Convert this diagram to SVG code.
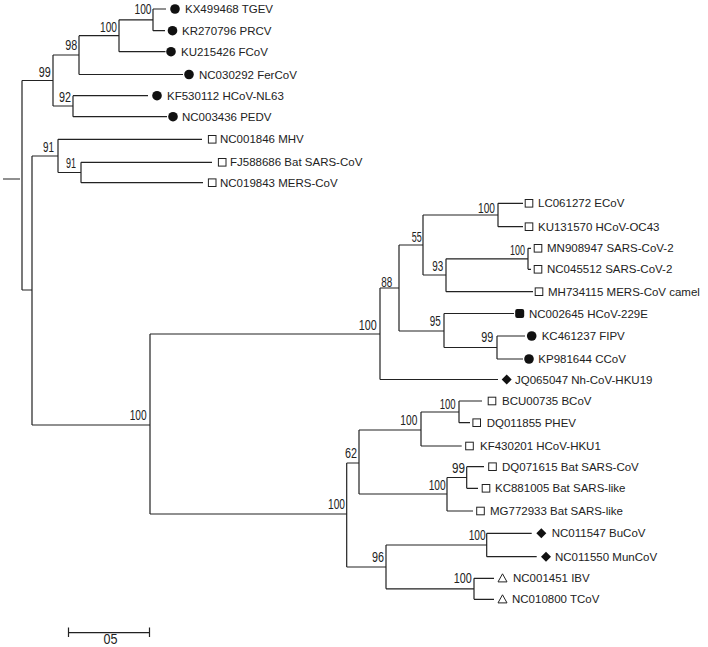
<svg xmlns="http://www.w3.org/2000/svg" xmlns:xlink="http://www.w3.org/1999/xlink" width="708" height="647" viewBox="0 0 708 647">
<style>
.br{fill:none;stroke:#222;stroke-width:1.2}
.lf{font-family:"Liberation Sans",Arial,sans-serif;font-size:11.5px;fill:#222}
.bs{font-family:"Liberation Sans",Arial,sans-serif;font-size:14px;fill:#222;text-anchor:end}
.dot{fill:#111}
.sq{fill:#fff;stroke:#222;stroke-width:1}
.tri{fill:#fff;stroke:#222;stroke-width:1}
</style>
<defs>
<circle id="m-dot" class="dot" cx="0" cy="0" r="4.8"/>
<rect id="m-rsq" class="dot" x="-4.5" y="-4.5" width="9" height="9" rx="2"/>
<rect id="m-sq" class="sq" x="-3.8" y="-3.8" width="7.6" height="7.6"/>
<polygon id="m-dia" class="dot" points="0,-5 5,0 0,5 -5,0"/>
<polygon id="m-tri" class="tri" points="0,-4.5 4.5,3.6 -4.5,3.6"/>
</defs>
<rect width="708" height="647" fill="#fff"/>
<g id="connectors">
<path class="br" d="M3 179H20 M22 80.5V290 M22 80.5H53 M22 290H32
M53 55V106 M53 55H79 M53 106H73
M79 35.7V74.5 M79 35.7H119 M79 74.5H183
M119 19.8V51.7 M119 19.8H153 M119 51.7H165.5
M153 9V30.7 M153 9H166 M153 30.7H165
M73 95.7V116.7 M73 95.7H148 M73 116.7H167
M32 156V425 M32 156H58 M32 425H150
M58 139.3V172.5 M58 139.3H202 M58 172.5H81
M81 162.3V182.7 M81 162.3H212 M81 182.7H203
M150 334V514 M150 334H380 M150 514H346.7
M380 288V379.5 M380 288H399 M380 379.5H498
M399 245V331 M399 245H423 M399 331H444
M423 215V275 M423 215H498 M423 275H446
M498 203.3V226.7 M498 203.3H523 M498 226.7H523
M446 258.8V291.7 M446 258.8H528 M446 291.7H533
M528 248.3V269.3 M528 248.3H531 M528 269.3H531
M444 313.5V347.5 M444 313.5H514 M444 347.5H497
M497 336V359 M497 336H525 M497 359H523
M346.7 463V567 M346.7 463H359 M346.7 567H386
M359 430V494 M359 430H421 M359 494H447
M421 412V446 M421 412H459 M421 446H461.7
M459 401V422.7 M459 401H482 M459 422.7H470
M447 477.5V511 M447 477.5H466.7 M447 511H473
M466.7 466.7V488.3 M466.7 466.7H484 M466.7 488.3H478
M386 545V588.8 M386 545H486.7 M386 588.8H474
M486.7 533.3V556.7 M486.7 533.3H531.7 M486.7 556.7H536.7
M474 578.3V599.3 M474 578.3H494 M474 599.3H494"/>
</g>
<g id="support">
<text class="bs" x="151.5" y="13.5" textLength="17" lengthAdjust="spacingAndGlyphs">100</text>
<text class="bs" x="117" y="31.7" textLength="17" lengthAdjust="spacingAndGlyphs">100</text>
<text class="bs" x="77.3" y="50" textLength="12" lengthAdjust="spacingAndGlyphs">98</text>
<text class="bs" x="50.7" y="76.7" textLength="12" lengthAdjust="spacingAndGlyphs">99</text>
<text class="bs" x="71" y="101.7" textLength="12" lengthAdjust="spacingAndGlyphs">92</text>
<text class="bs" x="54" y="151.7" textLength="11" lengthAdjust="spacingAndGlyphs">91</text>
<text class="bs" x="76" y="168.3" textLength="10" lengthAdjust="spacingAndGlyphs">91</text>
<text class="bs" x="495" y="213.3" textLength="17" lengthAdjust="spacingAndGlyphs">100</text>
<text class="bs" x="421.7" y="241.7" textLength="10" lengthAdjust="spacingAndGlyphs">55</text>
<text class="bs" x="525" y="255" textLength="15" lengthAdjust="spacingAndGlyphs">100</text>
<text class="bs" x="443.3" y="270.7" textLength="11" lengthAdjust="spacingAndGlyphs">93</text>
<text class="bs" x="392.3" y="287.3" textLength="11" lengthAdjust="spacingAndGlyphs">88</text>
<text class="bs" x="376.7" y="330" textLength="18" lengthAdjust="spacingAndGlyphs">100</text>
<text class="bs" x="440.7" y="326" textLength="11" lengthAdjust="spacingAndGlyphs">95</text>
<text class="bs" x="493.3" y="341.7" textLength="12" lengthAdjust="spacingAndGlyphs">99</text>
<text class="bs" x="455.7" y="409.3" textLength="16" lengthAdjust="spacingAndGlyphs">100</text>
<text class="bs" x="417.3" y="425" textLength="17" lengthAdjust="spacingAndGlyphs">100</text>
<text class="bs" x="465" y="473.3" textLength="13" lengthAdjust="spacingAndGlyphs">99</text>
<text class="bs" x="445.7" y="490" textLength="17" lengthAdjust="spacingAndGlyphs">100</text>
<text class="bs" x="357" y="458" textLength="12" lengthAdjust="spacingAndGlyphs">62</text>
<text class="bs" x="345" y="509.3" textLength="17" lengthAdjust="spacingAndGlyphs">100</text>
<text class="bs" x="146.7" y="420" textLength="17" lengthAdjust="spacingAndGlyphs">100</text>
<text class="bs" x="384" y="561.7" textLength="12" lengthAdjust="spacingAndGlyphs">96</text>
<text class="bs" x="485.7" y="540" textLength="17" lengthAdjust="spacingAndGlyphs">100</text>
<text class="bs" x="471.7" y="583.3" textLength="18" lengthAdjust="spacingAndGlyphs">100</text>
</g>
<g id="n-TGEV"><use href="#m-dot" x="175" y="9"/><text class="lf" x="185" y="13">KX499468 TGEV</text></g>
<g id="n-PRCV"><use href="#m-dot" x="172.5" y="30.7"/><text class="lf" x="182" y="34.7">KR270796 PRCV</text></g>
<g id="n-FCoV"><use href="#m-dot" x="171" y="51.7"/><text class="lf" x="181" y="55.7">KU215426 FCoV</text></g>
<g id="n-FerCoV"><use href="#m-dot" x="189" y="74.5"/><text class="lf" x="199" y="78.5">NC030292 FerCoV</text></g>
<g id="n-NL63"><use href="#m-dot" x="157" y="95.7"/><text class="lf" x="167" y="99.7">KF530112 HCoV-NL63</text></g>
<g id="n-PEDV"><use href="#m-dot" x="173" y="116.7"/><text class="lf" x="182" y="120.7">NC003436 PEDV</text></g>
<g id="n-MHV"><use href="#m-sq" x="212.2" y="139.3"/><text class="lf" x="220" y="143.3">NC001846 MHV</text></g>
<g id="n-FJ588686"><use href="#m-sq" x="222.2" y="162.3"/><text class="lf" x="230" y="166.3">FJ588686 Bat SARS-CoV</text></g>
<g id="n-NC019843"><use href="#m-sq" x="212.2" y="182.7"/><text class="lf" x="220" y="186.7">NC019843 MERS-CoV</text></g>
<g id="n-ECoV"><use href="#m-sq" x="529" y="203.3"/><text class="lf" x="538" y="207.3">LC061272 ECoV</text></g>
<g id="n-OC43"><use href="#m-sq" x="529" y="226.7"/><text class="lf" x="538" y="230.7">KU131570 HCoV-OC43</text></g>
<g id="n-MN908947"><use href="#m-sq" x="538" y="248.3"/><text class="lf" x="547" y="252.3">MN908947 SARS-CoV-2</text></g>
<g id="n-NC045512"><use href="#m-sq" x="538" y="269.3"/><text class="lf" x="547" y="273.3">NC045512 SARS-CoV-2</text></g>
<g id="n-MH734115"><use href="#m-sq" x="539" y="291.7"/><text class="lf" x="548" y="295.7">MH734115 MERS-CoV camel</text></g>
<g id="n-229E"><use href="#m-rsq" x="519.7" y="313.5"/><text class="lf" x="529" y="317.5">NC002645 HCoV-229E</text></g>
<g id="n-FIPV"><use href="#m-dot" x="531.7" y="336"/><text class="lf" x="541.7" y="340">KC461237 FIPV</text></g>
<g id="n-CCoV"><use href="#m-dot" x="529" y="359"/><text class="lf" x="538.3" y="363">KP981644 CCoV</text></g>
<g id="n-HKU19"><use href="#m-dia" x="506.7" y="379.5"/><text class="lf" x="515" y="383.5">JQ065047 Nh-CoV-HKU19</text></g>
<g id="n-BCoV"><use href="#m-sq" x="492" y="401"/><text class="lf" x="502" y="405">BCU00735 BCoV</text></g>
<g id="n-PHEV"><use href="#m-sq" x="476.7" y="422.7"/><text class="lf" x="486.7" y="426.7">DQ011855 PHEV</text></g>
<g id="n-HKU1"><use href="#m-sq" x="469.5" y="446"/><text class="lf" x="480" y="450">KF430201 HCoV-HKU1</text></g>
<g id="n-DQ071615"><use href="#m-sq" x="492.5" y="466.7"/><text class="lf" x="502" y="470.7">DQ071615 Bat SARS-CoV</text></g>
<g id="n-KC881005"><use href="#m-sq" x="486" y="488.3"/><text class="lf" x="495" y="492.3">KC881005 Bat SARS-like</text></g>
<g id="n-MG772933"><use href="#m-sq" x="480.5" y="511"/><text class="lf" x="490" y="515">MG772933 Bat SARS-like</text></g>
<g id="n-BuCoV"><use href="#m-dia" x="541.3" y="533.3"/><text class="lf" x="551.7" y="537.3">NC011547 BuCoV</text></g>
<g id="n-MunCoV"><use href="#m-dia" x="546" y="556.7"/><text class="lf" x="555" y="560.7">NC011550 MunCoV</text></g>
<g id="n-IBV"><use href="#m-tri" x="502.5" y="578.3"/><text class="lf" x="513" y="582.3">NC001451 IBV</text></g>
<g id="n-TCoV"><use href="#m-tri" x="502.5" y="599.3"/><text class="lf" x="512" y="603.3">NC010800 TCoV</text></g>
<g id="scale">
<path class="br" d="M68 632.7H150 M68.5 627.5V637 M149.5 627.5V637"/>
<text class="bs" x="117.5" y="643.5" textLength="14" lengthAdjust="spacingAndGlyphs">05</text>
</g>
</svg>
